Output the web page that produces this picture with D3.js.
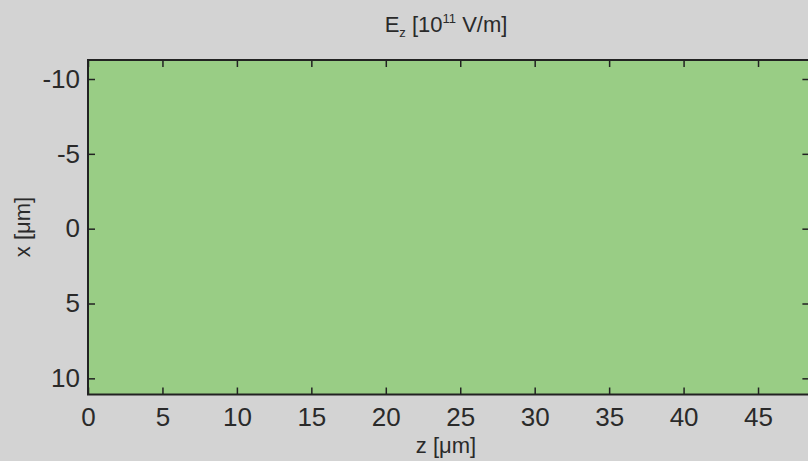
<!DOCTYPE html>
<html>
<head>
<meta charset="utf-8">
<script src="https://cdn.jsdelivr.net/npm/d3@7"></script>
<style>
  html, body { margin: 0; padding: 0; background: #d3d3d3; }
  svg { display: block; }
  text { font-family: "Liberation Sans", Arial, sans-serif; fill: #2a2a2a; }
</style>
</head>
<body>
<svg id="chart" width="808" height="461"></svg>
<script>
// ---- data ----
const zTicks = [0, 5, 10, 15, 20, 25, 30, 35, 40, 45];   // z [μm]
const xTicks = [-10, -5, 0, 5, 10];                       // x [μm]
const zExtent = [0, 48.45];
const xExtent = [-11.27, 11.08];
// field E_z over the window (uniform, value ~0)
const cellZ0 = [0];
const cellZ1 = [48.45];
const cellX0 = [-11.27];
const cellX1 = [11.08];
const cellValue = [0];
const colorDomain = [-1, 0, 1];
const colorRange = ["#3b6fd0", "#99cd85", "#d9503c"];

(function () {
// ---- layout ----
const svg = d3.select("#chart");
const W = 808, H = 461;
const mLeft = 88, mTop = 60, mRight = 809.4, mBottom = 394.5;

svg.append("rect").attr("width", W).attr("height", H).attr("fill", "#d3d3d3");

const zScale = d3.scaleLinear().domain(zExtent).range([mLeft, mRight]);
const xScale = d3.scaleLinear().domain(xExtent).range([mTop, mBottom]);
const color = d3.scaleLinear().domain(colorDomain).range(colorRange);

const cells = cellValue.map((v, i) => ({ z0: cellZ0[i], z1: cellZ1[i], x0: cellX0[i], x1: cellX1[i], v }));
svg.append("g").selectAll("rect").data(cells).join("rect")
  .attr("x", d => zScale(d.z0))
  .attr("y", d => xScale(d.x0))
  .attr("width", d => zScale(d.z1) - zScale(d.z0))
  .attr("height", d => xScale(d.x1) - xScale(d.x0))
  .attr("fill", d => color(d.v));

const tickLen = 7;
const fmt = d => String(d);
function styleAxis(g) {
  g.select(".domain").remove();
  g.selectAll(".tick line").attr("stroke", "#222").attr("stroke-width", 1.5);
  g.selectAll(".tick text").attr("font-size", 26).attr("fill", "#2a2a2a")
    .attr("font-family", "'Liberation Sans', Arial, sans-serif");
}

// bottom axis (ticks inward)
svg.append("g").attr("transform", `translate(0,${mBottom})`)
  .call(d3.axisBottom(zScale).tickValues(zTicks).tickFormat(fmt).tickSizeInner(-tickLen).tickSizeOuter(0).tickPadding(13))
  .call(styleAxis);
// top axis ticks, no labels
svg.append("g").attr("transform", `translate(0,${mTop})`)
  .call(d3.axisTop(zScale).tickValues(zTicks).tickSizeInner(-tickLen).tickSizeOuter(0).tickFormat(""))
  .call(styleAxis);
// left axis
svg.append("g").attr("transform", `translate(${mLeft},0)`)
  .call(d3.axisLeft(xScale).tickValues(xTicks).tickFormat(fmt).tickSizeInner(-tickLen).tickSizeOuter(0).tickPadding(8))
  .call(styleAxis);
// right axis ticks, no labels
svg.append("g").attr("transform", `translate(${mRight},0)`)
  .call(d3.axisRight(xScale).tickValues(xTicks).tickSizeInner(-tickLen).tickSizeOuter(0).tickFormat(""))
  .call(styleAxis);

// frame
svg.append("rect").attr("x", mLeft).attr("y", mTop)
  .attr("width", mRight - mLeft).attr("height", mBottom - mTop)
  .attr("fill", "none").attr("stroke", "#222").attr("stroke-width", 2);

// title
const title = svg.append("text").attr("x", 446).attr("y", 32)
  .attr("text-anchor", "middle").attr("font-size", 22);
title.append("tspan").text("E");
title.append("tspan").attr("font-size", 13).attr("dy", 5).text("z");
title.append("tspan").attr("dy", -5).text(" [10");
title.append("tspan").attr("font-size", 13).attr("dy", -9).text("11");
title.append("tspan").attr("dy", 9).text(" V/m]");

// axis labels
svg.append("text").attr("x", 446).attr("y", 453)
  .attr("text-anchor", "middle").attr("font-size", 22).text("z [μm]");
svg.append("text").attr("transform", `translate(30,227) rotate(-90)`)
  .attr("text-anchor", "middle").attr("font-size", 22).text("x [μm]");
})();
</script>
</body>
</html>
